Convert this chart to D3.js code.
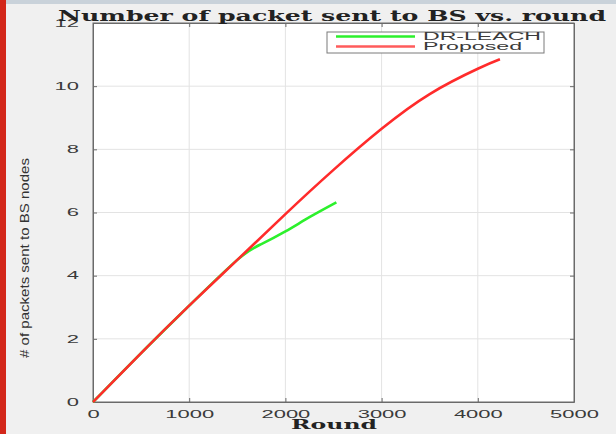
<!DOCTYPE html>
<html>
<head>
<meta charset="utf-8">
<script src="https://cdn.jsdelivr.net/npm/d3@7"></script>
<style>
  body { margin:0; padding:0; background:#f0f0f0; }
  svg { display:block; }
</style>
</head>
<body>
<svg id="chart" width="616" height="434"></svg>
<script>
// values
var rounds_dr  = [0, 500, 1000, 1500, 1750, 2000, 2250, 2530];
var values_dr  = [0, 1.55, 3.05, 4.5, 5.0, 5.4, 5.85, 6.32];
var rounds_pr  = [0, 500, 1000, 1500, 2000, 2500, 3000, 3500, 4000, 4230];
var values_pr  = [0, 1.55, 3.05, 4.5, 5.95, 7.35, 8.65, 9.75, 10.55, 10.85];
var xTicks = [0, 1000, 2000, 3000, 4000, 5000];
var yTicks = [0, 2, 4, 6, 8, 10, 12];
var seriesNames = ['DR-LEACH', 'Proposed'];

var svg = d3.select('#chart');
// note: "top" is taken by window.top, so use a margin object
var m = {left: 93, right: 574, top: 23, bottom: 402};

var x = d3.scaleLinear().domain([0, 5000]).range([m.left, m.right]);
var y = d3.scaleLinear().domain([0, 12]).range([m.bottom, m.top]);

// page chrome
svg.append('rect').attr('x',0).attr('y',0).attr('width',616).attr('height',434).attr('fill','#f0f0f0');
svg.append('rect').attr('x',0).attr('y',0).attr('width',616).attr('height',4).attr('fill','#c9d2da');
svg.append('rect').attr('x',0).attr('y',0).attr('width',6).attr('height',434).attr('fill','#d3271a');

// plot area
svg.append('rect').attr('x',m.left).attr('y',m.top).attr('width',m.right-m.left).attr('height',m.bottom-m.top).attr('fill','#fff');

// grid
svg.append('g').selectAll('line').data(xTicks.slice(1,-1)).enter().append('line')
  .attr('x1', function(d){ return x(d); }).attr('x2', function(d){ return x(d); })
  .attr('y1', m.top).attr('y2', m.bottom)
  .attr('stroke','#e3e3e3').attr('stroke-width',1);
svg.append('g').selectAll('line').data(yTicks.slice(1,-1)).enter().append('line')
  .attr('y1', function(d){ return y(d); }).attr('y2', function(d){ return y(d); })
  .attr('x1', m.left).attr('x2', m.right)
  .attr('stroke','#e3e3e3').attr('stroke-width',1);

// axes (MATLAB style inward ticks)
var gx = svg.append('g').attr('transform','translate(0,' + m.bottom + ')')
  .call(d3.axisBottom(x).tickValues(xTicks).tickFormat(d3.format('d')).tickSizeInner(-4).tickSizeOuter(0).tickPadding(10));
var gy = svg.append('g').attr('transform','translate(' + m.left + ',0)')
  .call(d3.axisLeft(y).tickValues(yTicks).tickFormat(d3.format('d')).tickSizeInner(-4).tickSizeOuter(0).tickPadding(14));
svg.append('g').attr('transform','translate(0,' + m.top + ')')
  .call(d3.axisTop(x).tickValues(xTicks).tickSizeInner(-4).tickSizeOuter(0).tickFormat(''));
svg.append('g').attr('transform','translate(' + m.right + ',0)')
  .call(d3.axisRight(y).tickValues(yTicks).tickSizeInner(-4).tickSizeOuter(0).tickFormat(''));
svg.selectAll('.domain').attr('stroke','#6a6a6a');
svg.selectAll('.tick line').attr('stroke','#6a6a6a');

[gx, gy].forEach(function(g) {
  g.selectAll('text')
    .attr('font-family','Arial, "Liberation Sans", sans-serif')
    .attr('font-size', 10)
    .attr('fill','#3a3a3a')
    .attr('lengthAdjust','spacingAndGlyphs')
    .attr('textLength', function(){ return this.textContent.length * 12.2; });
});
gx.selectAll('.tick text').attr('dy','0.55em');

// frame
svg.append('rect').attr('x',m.left).attr('y',m.top).attr('width',m.right-m.left).attr('height',m.bottom-m.top)
  .attr('fill','none').attr('stroke','#6a6a6a').attr('stroke-width',1);

// lines
var line = d3.line()
  .curve(d3.curveNatural)
  .x(function(d){ return x(d[0]); })
  .y(function(d){ return y(d[1]); });

var dr = rounds_dr.map(function(r,i){ return [r, values_dr[i]]; });
var pr = rounds_pr.map(function(r,i){ return [r, values_pr[i]]; });

svg.append('path').datum(dr).attr('d', line)
  .attr('fill','none').attr('stroke','#2cf02c').attr('stroke-width',2.6);
svg.append('path').datum(pr).attr('d', line)
  .attr('fill','none').attr('stroke','#ff2b2b').attr('stroke-width',2.6);

// legend
var lg = svg.append('g');
lg.append('rect').attr('x',327).attr('y',32).attr('width',217).attr('height',21)
  .attr('fill','#fff').attr('stroke','#7a7a7a').attr('stroke-width',1);
var legColors = ['#2cf02c', '#ff5b5b'];
seriesNames.forEach(function(name, i) {
  var yy = 36.5 + i * 10;
  lg.append('line').attr('x1',336).attr('x2',415).attr('y1',yy).attr('y2',yy)
    .attr('stroke', legColors[i]).attr('stroke-width',2.4);
  lg.append('text').attr('x',423).attr('y',yy + 3.8)
    .attr('font-family','Arial, "Liberation Sans", sans-serif').attr('font-size',10)
    .attr('fill','#3a3a3a')
    .attr('lengthAdjust','spacingAndGlyphs')
    .attr('textLength', i === 0 ? 118 : 99)
    .text(name);
});

// title
svg.append('text').attr('x',58).attr('y',21)
  .attr('font-family','"DejaVu Serif", "Liberation Serif", serif').attr('font-weight','bold')
  .attr('font-size',14).attr('fill','#222')
  .attr('lengthAdjust','spacingAndGlyphs').attr('textLength',548)
  .text('Number of packet sent to BS vs. round');

// x label
svg.append('text').attr('x',291).attr('y',429)
  .attr('font-family','"DejaVu Serif", "Liberation Serif", serif').attr('font-weight','bold')
  .attr('font-size',12).attr('fill','#222')
  .attr('lengthAdjust','spacingAndGlyphs').attr('textLength',86)
  .text('Round');

// y label
svg.append('text')
  .attr('transform','translate(29,258) rotate(-90)')
  .attr('text-anchor','middle')
  .attr('font-family','"Liberation Sans Narrow", Arial, sans-serif')
  .attr('font-size',13).attr('fill','#333')
  .attr('lengthAdjust','spacingAndGlyphs').attr('textLength',200)
  .text('# of packets sent to BS nodes');
</script>
</body>
</html>
